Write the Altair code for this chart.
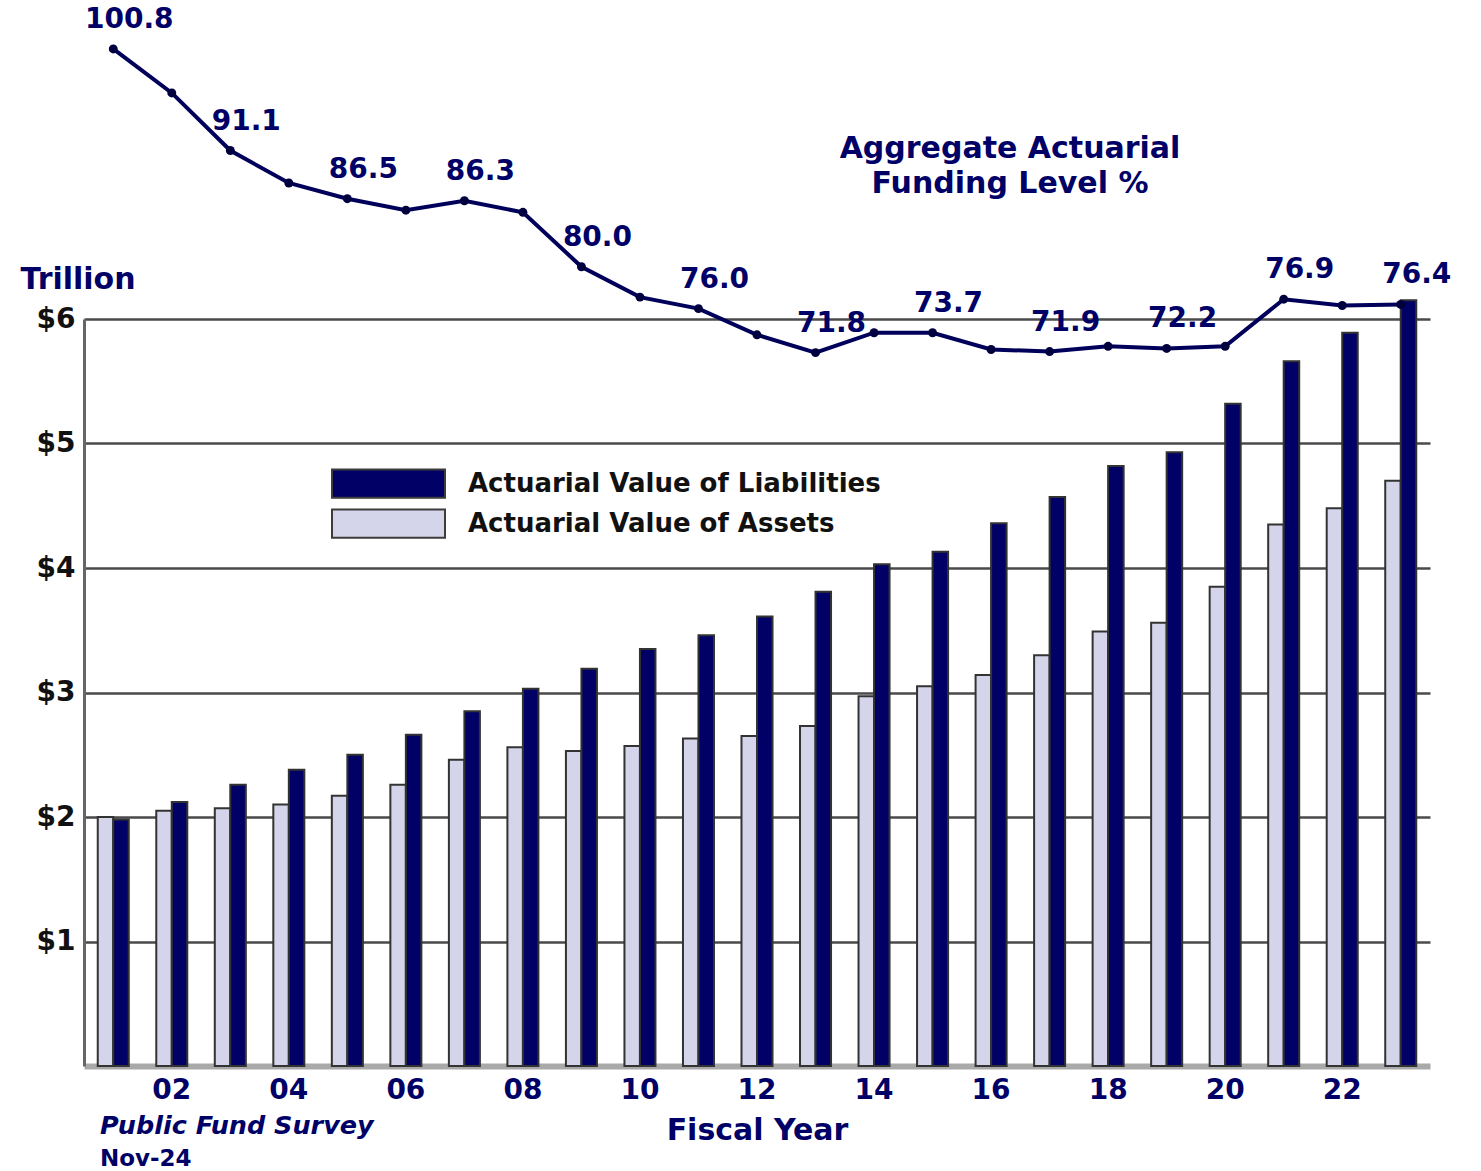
import altair as alt
import pandas as pd

# Fiscal years 2001-2023, values in trillions of dollars
years = list(range(2001, 2024))
liabilities = [1.98, 2.12, 2.26, 2.38, 2.50, 2.66, 2.85, 3.03, 3.19, 3.35, 3.46, 3.61,
               3.81, 4.03, 4.13, 4.36, 4.57, 4.82, 4.93, 5.32, 5.66, 5.89, 6.15]
assets = [2.00, 2.05, 2.07, 2.10, 2.17, 2.26, 2.46, 2.56, 2.53, 2.57, 2.63, 2.65,
          2.73, 2.97, 3.05, 3.14, 3.30, 3.49, 3.56, 3.85, 4.35, 4.48, 4.70]
# Aggregate actuarial funding level, percent
funding_level = [100.8, 96.6, 91.1, 88.0, 86.5, 85.4, 86.3, 85.2, 80.0, 77.1, 76.0, 73.5,
                 71.8, 73.7, 73.7, 72.1, 71.9, 72.4, 72.2, 72.4, 76.9, 76.3, 76.4]

LIAB = "Actuarial Value of Liabilities"
ASSETS = "Actuarial Value of Assets"
y_ticks = [1, 2, 3, 4, 5, 6]

NAVY = "#000066"
FONT = "DejaVu Sans"

bar_df = pd.DataFrame(
    [{"year": y, "series": ASSETS, "value": a} for y, a in zip(years, assets)]
    + [{"year": y, "series": LIAB, "value": l} for y, l in zip(years, liabilities)]
)
fund_df = pd.DataFrame({"year": years, "funding": funding_level})

x_enc = alt.X(
    "year:O",
    scale=alt.Scale(paddingInner=0.47, paddingOuter=0.235),
    axis=alt.Axis(
        title="Fiscal Year",
        titleFont=FONT, titleFontSize=30, titleFontWeight="bold", titleColor=NAVY,
        titleY=73, titleBaseline="alphabetic",
        labelExpr="datum.value % 2 == 0 ? slice(toString(datum.value), 2) : ''",
        labelAngle=0, labelFont=FONT, labelFontSize=28, labelFontWeight="bold",
        labelColor=NAVY, labelPadding=10,
        ticks=False, tickSize=0, grid=False,
        domainColor="#a9a9a9", domainWidth=6,
    ),
)

bars = alt.Chart(bar_df).mark_bar(stroke="#333333", strokeWidth=2).encode(
    x=x_enc,
    xOffset=alt.XOffset(
        "series:N",
        scale=alt.Scale(domain=[ASSETS, LIAB], paddingInner=0, paddingOuter=0),
    ),
    y=alt.Y(
        "value:Q",
        scale=alt.Scale(domain=[0, 6], nice=False, zero=True),
        axis=alt.Axis(
            values=y_ticks,
            labelExpr="'$' + datum.value",
            labelFont=FONT, labelFontSize=28, labelFontWeight="bold", labelColor="#111111",
            labelPadding=9, ticks=False, tickSize=0,
            grid=True, gridColor="#4a4a4a", gridWidth=2.5,
            domainColor="#666666", domainWidth=3,
            title="Trillion", titleAngle=0, titleAlign="left", titleBaseline="alphabetic",
            titleX=-64, titleY=-31,
            titleFont=FONT, titleFontSize=30, titleFontWeight="bold", titleColor=NAVY,
        ),
    ),
    fill=alt.Fill(
        "series:N",
        scale=alt.Scale(domain=[LIAB, ASSETS], range=[NAVY, "#d4d4ea"]),
        legend=alt.Legend(
            title=None, orient="none", legendX=247, legendY=149,
            symbolType="M-1,-0.25 H1 V0.25 H-1 Z", symbolSize=12769,
            symbolStrokeColor="#3c3c3c", symbolStrokeWidth=2, symbolOpacity=1,
            clipHeight=31, rowPadding=9, padding=0,
            labelFont=FONT, labelFontSize=26, labelFontWeight="bold",
            labelColor="#111111", labelOffset=22, labelLimit=700,
        ),
    ),
)

fund_y = alt.Y(
    "funding:Q",
    scale=alt.Scale(domain=[3.67, 75.01], nice=False, zero=False),
    axis=None,
)

fund_line = alt.Chart(fund_df).mark_line(color="#00005a", strokeWidth=4).encode(
    x=x_enc, y=fund_y
)
fund_pts = alt.Chart(fund_df).mark_point(
    filled=True, color="#00003f", size=80, opacity=1
).encode(x=x_enc, y=fund_y)
fund_lbl = alt.Chart(fund_df).transform_filter("datum.year % 2 == 1").mark_text(
    dx=16, dy=-29, font=FONT, fontSize=28, fontWeight="bold", color=NAVY
).encode(x=x_enc, y=fund_y, text=alt.Text("funding:Q", format=".1f"))

funding = alt.layer(fund_line, fund_pts, fund_lbl)

# Series title for the funding line
title_df = pd.DataFrame({"t": ["Aggregate Actuarial", "Funding Level %"], "yy": [-161, -126]})
line_title = alt.Chart(title_df).mark_text(
    font=FONT, fontSize=30, fontWeight="bold", color=NAVY, align="center", baseline="alphabetic"
).encode(x=alt.value(926), y=alt.Y("yy:Q", scale=None), text="t:N")

# Source note
src_df = pd.DataFrame({"t": ["Public Fund Survey"]})
source = alt.Chart(src_df).mark_text(
    font=FONT, fontSize=25.5, fontWeight="bold", fontStyle="italic", color=NAVY,
    align="left", baseline="alphabetic",
).encode(x=alt.value(16), y=alt.value(815), text="t:N")
date_df = pd.DataFrame({"t": ["Nov-24"]})
date_note = alt.Chart(date_df).mark_text(
    font=FONT, fontSize=23, fontWeight="bold", color=NAVY,
    align="left", baseline="alphabetic",
).encode(x=alt.value(16), y=alt.value(847), text="t:N")

chart = alt.layer(bars, funding, line_title, source, date_note).resolve_scale(
    y="independent"
).properties(
    width=1346,
    height=747,
    padding={"left": 84, "top": 319, "right": 51, "bottom": 105},
    autosize=alt.AutoSizeParams(type="none"),
    background="white",
).configure_view(stroke=None)

chart.save("out.html", embed_options={"renderer": "svg", "actions": False})
